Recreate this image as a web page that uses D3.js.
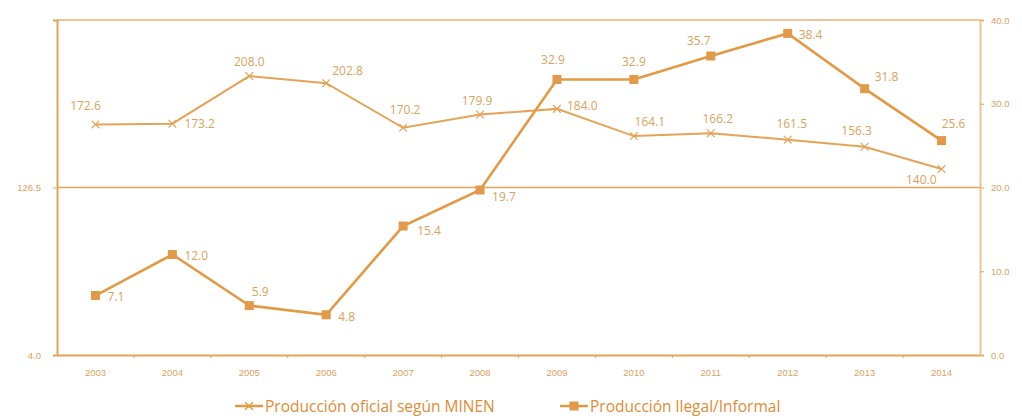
<!DOCTYPE html>
<html><head><meta charset="utf-8">
<script src="https://cdn.jsdelivr.net/npm/d3@7"></script>
<style>body{margin:0;background:#fff;}svg{display:block;font-family:"Open Sans","Noto Sans",sans-serif;}</style>
</head><body>
<svg id="c" width="1022" height="419"></svg>
<script>
const years = ["2003","2004","2005","2006","2007","2008","2009","2010","2011","2012","2013","2014"];
const oficial = [172.6,173.2,208.0,202.8,170.2,179.9,184.0,164.1,166.2,161.5,156.3,140.0];
const ilegal = [7.1,12.0,5.9,4.8,15.4,19.7,32.9,32.9,35.7,38.4,31.8,25.6];
const leftTicks = [4.0,126.5];
const rightTicks = [0,10,20,30,40];
const seriesNames = ["Producción oficial según MINEN","Producción llegal/Informal"];
// label placement (offset of label centre from marker): [dx, dy, anchor]
const labOf = [[-10,-19,"middle"],[12,0,"start"],[0,-15,"middle"],[6,-13,"start"],[2,-18,"middle"],[-3,-14,"middle"],[10,-3,"start"],[16,-15,"middle"],[7,-15,"middle"],[4,-16,"middle"],[-8,-16,"middle"],[-5,10,"end"]];
const labIl = [[12,1,"start"],[12,1,"start"],[11,-14,"middle"],[12,2,"start"],[14,4,"start"],[12,6,"start"],[-4,-20,"middle"],[0,-18,"middle"],[-12,-16,"middle"],[11,1,"start"],[10,-12,"start"],[12,-17,"middle"]];

const svg = d3.select("#c");
const L=57,R=980,T=20,B=355;
const col="#E4A458", border="#EDC698", txt="#D9A25E";
const x = d3.scaleBand().domain(years).range([L,R]);
const yL = d3.scaleLinear().domain([4,249]).range([B,T]);
const yR = d3.scaleLinear().domain([0,40]).range([B,T]);
const cx = d=>x(d)+x.bandwidth()/2;

// frame
svg.append("line").attr("x1",L).attr("x2",R).attr("y1",T).attr("y2",T).attr("stroke",border).attr("stroke-width",2);
svg.append("line").attr("x1",L).attr("x2",R).attr("y1",yL(126.5)).attr("y2",yL(126.5)).attr("stroke",col).attr("stroke-width",1.3);

// axes
const gx = svg.append("g").attr("transform",`translate(0,${B})`)
  .call(d3.axisBottom(x).tickSize(0).tickPadding(14));
gx.select(".domain").attr("stroke",col).attr("stroke-width",2);
gx.selectAll("text").attr("fill",txt).attr("font-size",9.5);
svg.append("g").selectAll("line").data(years.slice(1)).join("line")
  .attr("x1",d=>x(d)).attr("x2",d=>x(d)).attr("y1",B).attr("y2",B+3).attr("stroke",col);

const gl = svg.append("g").attr("transform",`translate(${L},0)`)
  .call(d3.axisLeft(yL).tickValues(leftTicks).tickFormat(d3.format(".1f")).tickSize(4).tickPadding(12));
gl.select(".domain").attr("stroke",col).attr("stroke-width",2);
gl.selectAll(".tick line").attr("stroke",col);
gl.selectAll("text").attr("fill",txt).attr("font-size",9.5);

const gr = svg.append("g").attr("transform",`translate(${R},0)`)
  .call(d3.axisRight(yR).tickValues(rightTicks).tickFormat(d3.format(".1f")).tickSize(4).tickPadding(7));
gr.select(".domain").attr("stroke",border).attr("stroke-width",2);
gr.selectAll(".tick line").attr("stroke",col);
gr.selectAll("text").attr("fill",txt).attr("font-size",9.5);

// lines
const lineOf = d3.line().x((d,i)=>cx(years[i])).y(d=>yL(d));
const lineIl = d3.line().x((d,i)=>cx(years[i])).y(d=>yR(d));
svg.append("path").attr("d",lineOf(oficial)).attr("fill","none").attr("stroke",col).attr("stroke-width",2);
svg.append("path").attr("d",lineIl(ilegal)).attr("fill","none").attr("stroke","#E39A45").attr("stroke-width",2.6);

// markers
const star = d3.symbol().type(d3.symbolX).size(40);
svg.append("g").selectAll("path").data(oficial).join("path")
  .attr("d",star).attr("transform",(d,i)=>`translate(${cx(years[i])},${yL(d)})`)
  .attr("fill","none").attr("stroke",col).attr("stroke-width",1.2);
svg.append("g").selectAll("rect").data(ilegal).join("rect")
  .attr("x",(d,i)=>cx(years[i])-4.5).attr("y",d=>yR(d)-4.5).attr("width",9).attr("height",9)
  .attr("fill","#E09A48");

// labels
const fmt = d3.format(".1f");
svg.append("g").selectAll("text").data(oficial).join("text")
  .attr("x",(d,i)=>cx(years[i])+labOf[i][0]).attr("y",(d,i)=>yL(d)+labOf[i][1])
  .attr("dominant-baseline","central")
  .attr("text-anchor",(d,i)=>labOf[i][2]).attr("font-size",12).attr("fill",txt).text(fmt);
svg.append("g").selectAll("text").data(ilegal).join("text")
  .attr("x",(d,i)=>cx(years[i])+labIl[i][0]).attr("y",(d,i)=>yR(d)+labIl[i][1])
  .attr("dominant-baseline","central")
  .attr("text-anchor",(d,i)=>labIl[i][2]).attr("font-size",12).attr("fill",txt).text(fmt);

// legend
const lg = svg.append("g");
const legX=[235,560], legY=406;
seriesNames.forEach((n,i)=>{
  const g = lg.append("g").attr("transform",`translate(${legX[i]},${legY})`);
  g.append("line").attr("x1",0).attr("x2",28).attr("y1",0).attr("y2",0).attr("stroke","#E39A45").attr("stroke-width",2.5);
  if(i===0) g.append("path").attr("d",star).attr("transform","translate(14,0)").attr("fill","none").attr("stroke","#E39A45").attr("stroke-width",1.5);
  else g.append("rect").attr("x",9.5).attr("y",-4.5).attr("width",9).attr("height",9).attr("fill","#E09A48");
  g.append("text").attr("x",30).attr("y",0).attr("dominant-baseline","central").attr("font-size",15.5).attr("fill","#E08C35").text(n);
});
</script></body></html>
